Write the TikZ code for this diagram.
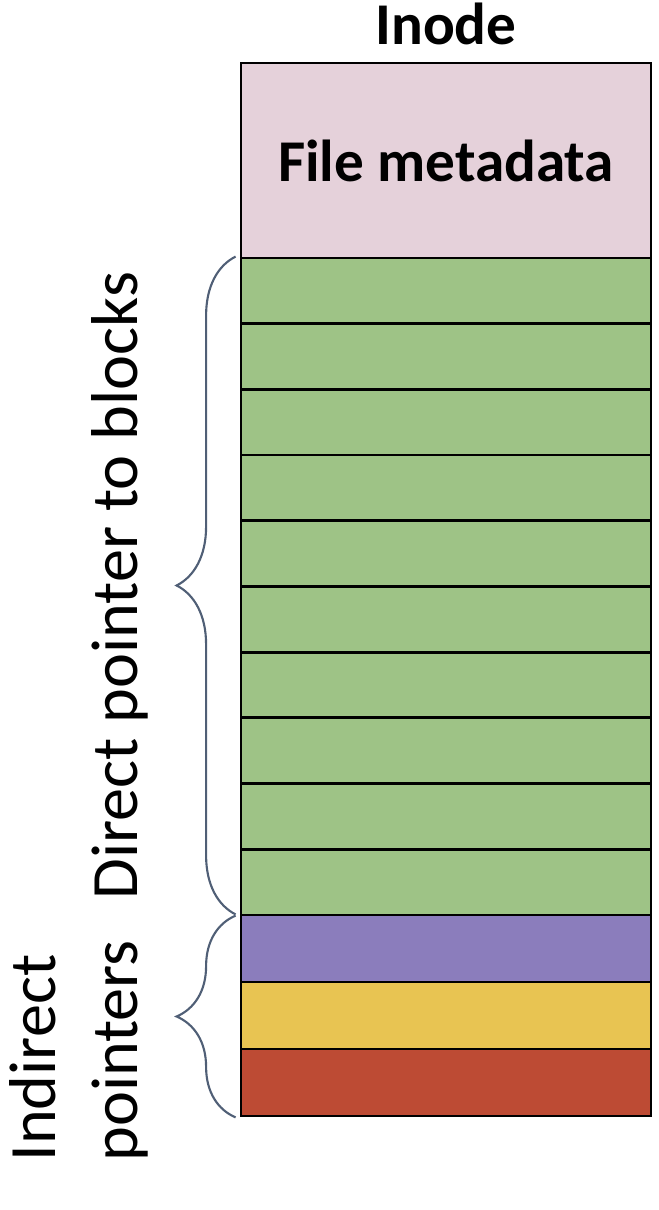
\documentclass[tikz,border=0pt]{standalone}
\usepackage{fontspec}
\setmainfont{Carlito}
\usepackage{tikz}
\usetikzlibrary{positioning,decorations.pathreplacing}
\definecolor{figpink}{RGB}{229,209,218}
\definecolor{figgreen}{RGB}{158,195,134}
\definecolor{figpurple}{RGB}{139,125,188}
\definecolor{figyellow}{RGB}{232,196,82}
\definecolor{figred}{RGB}{189,75,52}
\definecolor{figslate}{RGB}{80,95,118}
\tikzset{
  metabox/.style={draw=black, line width=1.6pt, fill=figpink, minimum width=8.2cm, minimum height=3.9cm, inner sep=0pt, align=center, font=\fontsize{33.7}{40}\selectfont\bfseries},
  ptrbox/.style={draw=black, line width=1.6pt, fill=figgreen, minimum width=8.2cm, minimum height=1.314cm, inner sep=0pt},
  indbox/.style={draw=black, line width=1.6pt, minimum width=8.2cm, minimum height=1.34cm, inner sep=0pt},
  sidebrace/.style={decorate, decoration={brace, amplitude=1.18cm}, draw=figslate, line width=1.2pt},
  sidelabel/.style={rotate=90, anchor=base west, inner sep=0pt, font=\fontsize{37.7}{46}\selectfont},
  figtitle/.style={font=\fontsize{33.7}{40}\selectfont\bfseries}
}
\begin{document}
\begin{tikzpicture}[x=1cm,y=1cm]
  \useasboundingbox (0,0) rectangle (13.16,24.2);

  \node[figtitle, anchor=base] (title) at (8.92,23.3) {Inode};
  \node[metabox] (meta) at (8.92,20.99) {File metadata};

  \node[ptrbox] (ptr1) at (8.92,18.383) {};
  \node[ptrbox] (ptr2) at (8.92,17.069) {};
  \node[ptrbox] (ptr3) at (8.92,15.755) {};
  \node[ptrbox] (ptr4) at (8.92,14.441) {};
  \node[ptrbox] (ptr5) at (8.92,13.127) {};
  \node[ptrbox] (ptr6) at (8.92,11.813) {};
  \node[ptrbox] (ptr7) at (8.92,10.499) {};
  \node[ptrbox] (ptr8) at (8.92,9.185) {};
  \node[ptrbox] (ptr9) at (8.92,7.871) {};
  \node[ptrbox] (ptr10) at (8.92,6.557) {};

  \node[indbox, fill=figpurple] (ind1) at (8.92,5.23) {};
  \node[indbox, fill=figyellow] (ind2) at (8.92,3.89) {};
  \node[indbox, fill=figred] (ind3) at (8.92,2.55) {};

  \draw[sidebrace] ([shift={(-0.08,0.04)}]ptr10.south west) -- ([xshift=-0.08cm]ptr1.north west);
  \draw[sidebrace] ([xshift=-0.08cm]ind3.south west) -- ([shift={(-0.08,-0.04)}]ind1.north west);

  \node[sidelabel] (directlbl) at (2.74,6.2) {Direct pointer to blocks};
  \node[sidelabel] (indirectlbl) at (1.10,0.96) {Indirect};
  \node[sidelabel] (pointerslbl) at (2.74,0.96) {pointers};
\end{tikzpicture}
\end{document}
